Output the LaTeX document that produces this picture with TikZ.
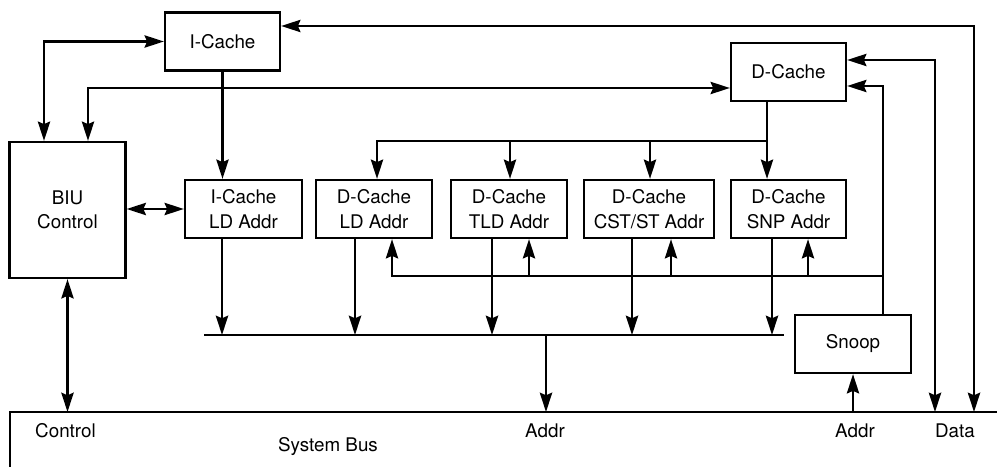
\documentclass[tikz,border=0pt]{standalone}
\usepackage{fontspec}
\setmainfont{TeX Gyre Heros}
\usetikzlibrary{arrows.meta}

\begin{document}
\begin{tikzpicture}[x=0.2mm,y=-0.2mm,
  every node/.style={font=\fontsize{10.7}{14}\selectfont},
  blk/.style={draw,line width=1.3pt,align=center,minimum height=11.6mm,inner sep=0pt},
  ln/.style={line width=1.3pt},
  >={Stealth[length=11pt,width=7pt,inset=1.5pt]}]
\useasboundingbox (0,0) rectangle (997,467);

\node[blk,minimum width=23mm] (icache) at (222.5,41.5) {I-Cache};
\node[blk,minimum width=23.2mm,minimum height=27.2mm] (biu) at (67.5,210) {BIU\\Control};
\node[blk,minimum width=23.4mm] (ild) at (243.5,209) {I-Cache\\LD Addr};
\node[blk,minimum width=23.2mm] (dld) at (374,209) {D-Cache\\LD Addr};
\node[blk,minimum width=23.2mm] (tld) at (509,209) {D-Cache\\TLD Addr};
\node[blk,minimum width=26mm] (cst) at (649,209) {D-Cache\\CST/ST Addr};
\node[blk,minimum width=23mm] (snp) at (788.5,209) {D-Cache\\SNP Addr};
\node[blk,minimum width=23mm] (dcache) at (788.5,72) {D-Cache};
\node[blk,minimum width=23.2mm] (snoop) at (853,344) {Snoop};

% system bus
\coordinate (bus) at (10,412);
\draw[ln] (997,412) -- (bus) -- (10,467);
\node (lctl) at (65.5,431) {Control};
\node (lsys) at (328,447) {System Bus};
\node (laddr) at (545,431) {Addr};
\node (lsaddr) at (855,431) {Addr};
\node (ldata) at (955,431) {Data};

\draw[ln,<->] (icache.west) -| (biu.north -| 44,0);
\draw[ln,<->] (biu.north -| 88,0) |- (dcache.west |- 0,88);
\draw[ln,<->] (icache.east |- 0,26) -| (bus -| 974,0);
\draw[ln,<->] (dcache.east |- 0,60) -| (bus -| 935,0);
\draw[ln,->] (snoop.north -| 883,0) |- (dcache.east |- 0,86);
\draw[ln,->] (icache.south) -- (icache.south |- ild.north);
\draw[ln,<->] (biu.east |- ild.west) -- (ild.west);
\draw[ln,<->] (biu.south) -- (biu.south |- bus);

% D-Cache to the address units
\coordinate (dsplit) at (767,141);
\draw[ln,->] (dcache.south -| dsplit) -- (dsplit) -| (dld.north -| 377,0);
\foreach \b/\x in {tld/510,cst/650,snp/767}
  \draw[ln,->] (dsplit -| \x,0) -- (\b.north -| \x,0);

% snoop back to the address units
\coordinate (ssplit) at (883,276);
\draw[ln,->] (ssplit) -| (dld.south -| 392,0);
\foreach \b/\x in {tld/529,cst/671,snp/808}
  \draw[ln,->] (ssplit -| \x,0) -- (\b.south -| \x,0);

% address bus
\coordinate (abus) at (204,335);
\draw[ln] (abus) -- (784,335);
\foreach \b/\x in {ild/222,dld/355,tld/492,cst/632,snp/772}
  \draw[ln,->] (\b.south -| \x,0) -- (abus -| \x,0);
\draw[ln,->] (abus -| 546,0) -- (bus -| 546,0);
\draw[ln,->] (bus -| snoop.south) -- (snoop.south);

\end{tikzpicture}
\end{document}
